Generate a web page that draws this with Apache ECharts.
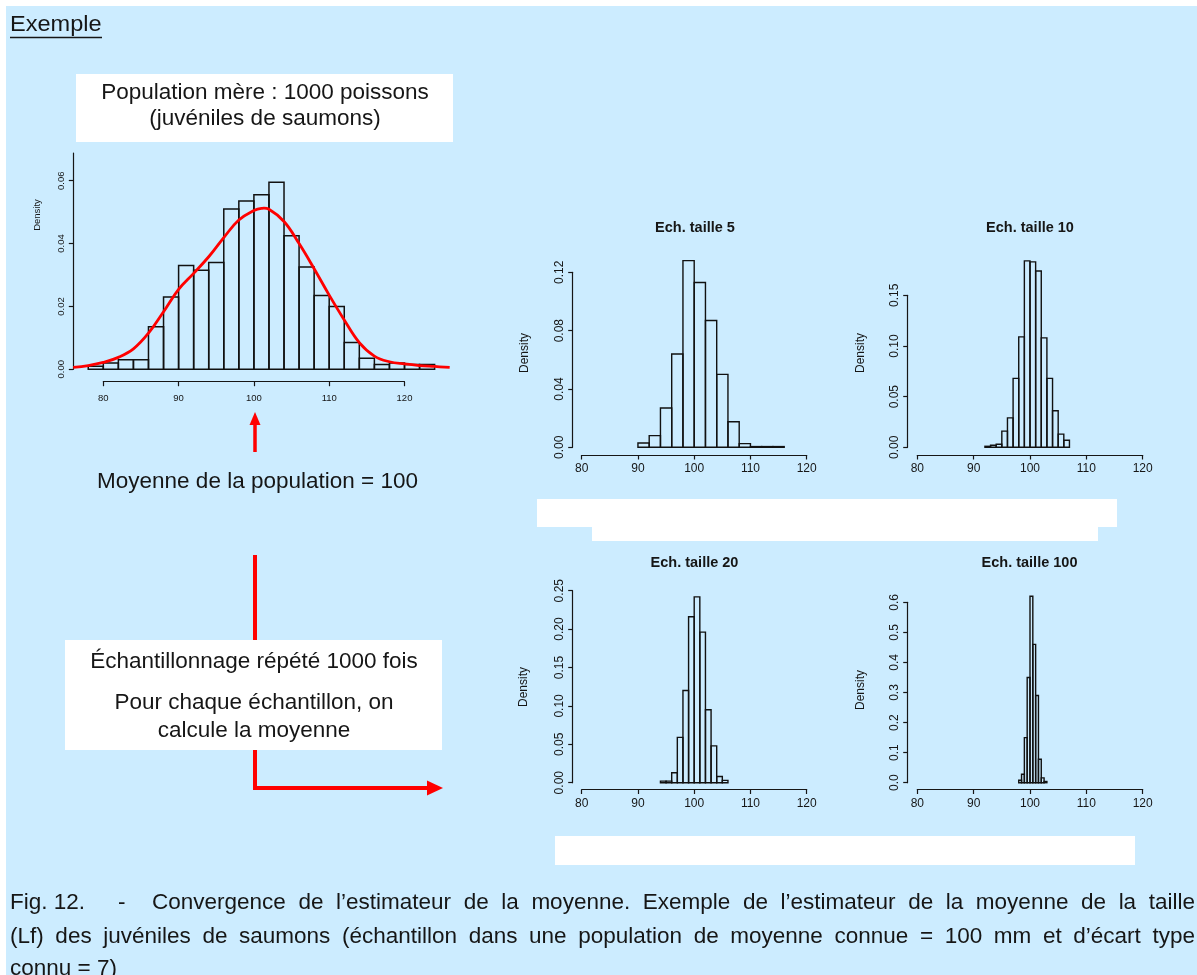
<!DOCTYPE html>
<html>
<head>
<meta charset="utf-8">
<script src="https://cdn.jsdelivr.net/npm/echarts@6/dist/echarts.min.js"></script>
<style>
  html, body { margin: 0; padding: 0; background: #fff; }
  #chart { width: 1197px; height: 975px; }
</style>
</head>
<body>
<div id="chart"></div>
<script>
// population mère (histogramme en densité + courbe de densité)
const popBreaks = [78, 80, 82, 84, 86, 88, 90, 92, 94, 96, 98, 100, 102, 104, 106, 108, 110, 112, 114, 116, 118, 120, 122, 124];
const popDensity = [0.001, 0.002, 0.003, 0.003, 0.0135, 0.023, 0.033, 0.0315, 0.034, 0.051, 0.0535, 0.0555, 0.0595, 0.0425, 0.0325, 0.0235, 0.020, 0.0085, 0.0035, 0.0015, 0.002, 0.0015, 0.0015];
const popCurveX = [76, 78, 80, 82, 84, 86, 88, 90, 92, 94, 96, 98, 100, 101, 102, 104, 106, 108, 110, 112, 114, 116, 118, 120, 122, 124, 126];
const popCurveY = [0.0006, 0.0012, 0.0022, 0.0038, 0.0065, 0.0115, 0.0183, 0.0254, 0.0305, 0.0358, 0.0419, 0.0475, 0.0505, 0.0512, 0.0509, 0.047, 0.040, 0.032, 0.0236, 0.0157, 0.0085, 0.0042, 0.0024, 0.0017, 0.0012, 0.0009, 0.0006];

// moyennes des 1000 échantillons
const ech5Breaks = [90, 92, 94, 96, 98, 100, 102, 104, 106, 108, 110, 112, 114, 116];
const ech5Density = [0.003, 0.008, 0.027, 0.064, 0.128, 0.113, 0.087, 0.050, 0.0175, 0.0025, 0.0005, 0.0005, 0.0005];
const ech10Breaks = [92, 93, 94, 95, 96, 97, 98, 99, 100, 101, 102, 103, 104, 105, 106, 107];
const ech10Density = [0.001, 0.002, 0.003, 0.016, 0.029, 0.068, 0.109, 0.184, 0.183, 0.174, 0.108, 0.068, 0.036, 0.013, 0.007];
const ech20Breaks = [94, 95, 96, 97, 98, 99, 100, 101, 102, 103, 104, 105, 106];
const ech20Density = [0.002, 0.002, 0.013, 0.059, 0.120, 0.216, 0.242, 0.196, 0.095, 0.048, 0.008, 0.003];
const ech100Breaks = [98, 98.5, 99, 99.5, 100, 100.5, 101, 101.5, 102, 102.5, 103];
const ech100Density = [0.008, 0.028, 0.150, 0.350, 0.620, 0.460, 0.290, 0.078, 0.016, 0.004];

const popYTicks = [0, 0.02, 0.04, 0.06];

const FONT = '"Liberation Sans", Arial, Helvetica, sans-serif';
const INK = '#161616';
const RED = '#ff0000';

const panels = [
  { breaks: popBreaks, dens: popDensity, left: 103.3, top: 153, width: 301.2, height: 216.3,
    yMax: 0.0688, yTicks: popYTicks, dec: 2, yOff: 30, xOff: 12.4, fs: 9.5, mx: 12, my: 7, lw: 1.5 },
  { breaks: ech5Breaks, dens: ech5Density, left: 581.7, top: 272.3, width: 225, height: 175,
    yMax: 0.12, yStep: 0.04, dec: 2, yOff: 9, xOff: 7.7, fs: 12, mx: 8, my: 7, lw: 1.4 },
  { breaks: ech10Breaks, dens: ech10Density, left: 917.3, top: 295.3, width: 225.4, height: 152,
    yMax: 0.15, yStep: 0.05, dec: 2, yOff: 9.6, xOff: 7.7, fs: 12, mx: 8, my: 7, lw: 1.4 },
  { breaks: ech20Breaks, dens: ech20Density, left: 581.7, top: 590.7, width: 225, height: 192,
    yMax: 0.25, yStep: 0.05, dec: 2, yOff: 9, xOff: 6.8, fs: 12, mx: 8, my: 7, lw: 1.4 },
  { breaks: ech100Breaks, dens: ech100Density, left: 917.3, top: 602.3, width: 225.4, height: 180.4,
    yMax: 0.6, yStep: 0.1, dec: 1, yOff: 9.6, xOff: 6.8, fs: 12, mx: 8, my: 7, lw: 1.4 }
];

const axisLineStyle = { color: INK, width: 1.2 };

const grid = panels.map(p => ({
  left: p.left, top: p.top, width: p.width, height: p.height, outerBoundsMode: 'none', containLabel: false
}));

const xAxis = panels.map((p, i) => ({
  gridIndex: i, type: 'value', min: 80, max: 120, interval: 10, position: 'bottom', offset: p.xOff,
  axisLine: { show: true, onZero: false, lineStyle: axisLineStyle },
  axisTick: { show: true, length: 4.5, lineStyle: axisLineStyle },
  axisLabel: { show: true, margin: p.mx, fontSize: p.fs, fontFamily: FONT, color: INK },
  splitLine: { show: false }
}));

const yAxis = panels.map((p, i) => {
  const ax = {
    gridIndex: i, type: 'value', min: 0, max: p.yMax, position: 'left', offset: p.yOff,
    axisLine: { show: true, onZero: false, lineStyle: axisLineStyle },
    axisTick: { show: true, length: 4.5, lineStyle: axisLineStyle },
    axisLabel: { show: true, rotate: 90, margin: p.my, fontSize: p.fs, fontFamily: FONT, color: INK,
      formatter: v => v.toFixed(p.dec) },
    splitLine: { show: false }
  };
  if (p.yTicks) {
    ax.axisTick.customValues = p.yTicks;
    ax.axisLabel.customValues = p.yTicks;
  } else {
    ax.interval = p.yStep;
  }
  return ax;
});

function histItem(lw) {
  return function (params, api) {
    const a = api.coord([api.value(0), api.value(2)]);
    const b = api.coord([api.value(1), 0]);
    return {
      type: 'rect',
      shape: { x: a[0], y: a[1], width: b[0] - a[0], height: b[1] - a[1] },
      style: { fill: 'none', stroke: '#111', lineWidth: lw }
    };
  };
}

const series = panels.map((p, i) => ({
  type: 'custom', xAxisIndex: i, yAxisIndex: i, clip: false, silent: true,
  renderItem: histItem(p.lw),
  data: p.dens.map((d, k) => [p.breaks[k], p.breaks[k + 1], d])
}));

// courbe de densité : une seule polyligne, placée par les axes du premier graphique
series.push({
  type: 'custom', xAxisIndex: 0, yAxisIndex: 0, clip: false, silent: true, z: 3,
  data: popCurveX.map((x, k) => [x, popCurveY[k]]),
  renderItem: function (params, api) {
    if (params.dataIndex !== 0) return null;
    const pts = popCurveX.map((x, k) => api.coord([x, popCurveY[k]]));
    return {
      type: 'polyline',
      shape: { points: pts, smooth: 0.4 },
      style: { fill: null, stroke: RED, lineWidth: 2.8 }
    };
  }
});

// ---- annotations ----
const big = '22.5px ' + FONT;

function txt(text, x, y, font, extra) {
  return Object.assign({
    type: 'text', x: x, y: y, z: 20, silent: true,
    style: { text: text, font: font, fill: INK, align: 'center', verticalAlign: 'middle' }
  }, extra || {});
}
function box(x, y, w, h) {
  return { type: 'rect', z: 5, silent: true, shape: { x: x, y: y, width: w, height: h }, style: { fill: '#fff' } };
}

// légende justifiée comme dans l'original
const measureCtx = document.createElement('canvas').getContext('2d');
function justify(words, x0, x1, y, font) {
  measureCtx.font = font;
  const widths = words.map(w => measureCtx.measureText(w).width);
  const total = widths.reduce((s, w) => s + w, 0);
  const gap = (x1 - x0 - total) / (words.length - 1);
  let x = x0;
  return words.map((w, k) => {
    const el = { type: 'text', x: x, y: y, z: 20, silent: true,
      style: { text: w, font: font, fill: INK, align: 'left', verticalAlign: 'middle' } };
    x += widths[k] + gap;
    return el;
  });
}
const capFont = '22.5px ' + FONT;
const capLine1 = 'Convergence de l’estimateur de la moyenne. Exemple de l’estimateur de la moyenne de la taille';
const capLine2 = '(Lf) des juvéniles de saumons (échantillon dans une population de moyenne connue = 100 mm et d’écart type';

const graphics = [
  { type: 'rect', z: -10, silent: true, shape: { x: 6, y: 6, width: 1191, height: 969 }, style: { fill: '#cceCff' } },

  { type: 'text', x: 10, y: 25, z: 20, silent: true, scaleX: 1.07,
    style: { text: 'Exemple', font: '22px ' + FONT, fill: INK, align: 'left', verticalAlign: 'middle' } },
  { type: 'line', z: 20, silent: true, shape: { x1: 10, y1: 37.5, x2: 102, y2: 37.5 }, style: { stroke: INK, lineWidth: 1.4 } },

  box(76, 74, 377, 68),
  txt('Population mère : 1000 poissons', 265, 93, big),
  txt('(juvéniles de saumons)', 265, 119, big),

  // flèche vers le haut
  { type: 'line', z: 4, silent: true, shape: { x1: 255, y1: 452, x2: 255, y2: 421 }, style: { stroke: RED, lineWidth: 3.5 } },
  { type: 'polygon', z: 4, silent: true, shape: { points: [[255, 412], [249.5, 425], [260.5, 425]] }, style: { fill: RED } },
  txt('Moyenne de la population = 100', 257.5, 482, big),

  // flèche coudée
  { type: 'polyline', z: 4, silent: true, shape: { points: [[255, 555], [255, 788], [430, 788]] },
    style: { stroke: RED, lineWidth: 4, fill: null, lineJoin: 'miter' } },
  { type: 'polygon', z: 4, silent: true, shape: { points: [[443, 788], [427, 780.5], [427, 795.5]] }, style: { fill: RED } },

  box(65, 640, 377, 110),
  txt('Échantillonnage répété 1000 fois', 254, 662, big),
  txt('Pour chaque échantillon, on', 254, 702.5, big),
  txt('calcule la moyenne', 254, 731, big),

  // bandeaux blancs
  box(537, 499, 580, 28),
  box(592, 527, 506, 14),
  box(555, 836, 580, 29),

  // titres et libellés Density des histogrammes
  txt('Density', 37, 215, '9.5px ' + FONT, { rotation: Math.PI / 2 }),
  txt('Density', 525, 353, '12px ' + FONT, { rotation: Math.PI / 2 }),
  txt('Density', 861, 353, '12px ' + FONT, { rotation: Math.PI / 2 }),
  txt('Density', 524, 687, '12px ' + FONT, { rotation: Math.PI / 2 }),
  txt('Density', 861, 690, '12px ' + FONT, { rotation: Math.PI / 2 }),
  txt('Ech. taille 5', 695, 227.5, 'bold 14.5px ' + FONT),
  txt('Ech. taille 10', 1030, 227.5, 'bold 14.5px ' + FONT),
  txt('Ech. taille 20', 694.5, 563, 'bold 14.5px ' + FONT),
  txt('Ech. taille 100', 1029.5, 563, 'bold 14.5px ' + FONT),

  // légende de la figure
  { type: 'text', x: 10, y: 903, z: 20, silent: true, style: { text: 'Fig. 12.', font: capFont, fill: INK, align: 'left', verticalAlign: 'middle' } },
  { type: 'text', x: 118, y: 903, z: 20, silent: true, style: { text: '-', font: capFont, fill: INK, align: 'left', verticalAlign: 'middle' } }
]
  .concat(justify(capLine1.split(' '), 152, 1195, 903, capFont))
  .concat(justify(capLine2.split(' '), 10, 1195, 937, capFont))
  .concat([{ type: 'text', x: 10, y: 969, z: 20, silent: true, style: { text: 'connu = 7)', font: capFont, fill: INK, align: 'left', verticalAlign: 'middle' } }]);

const chart = echarts.init(document.getElementById('chart'), null, { renderer: 'canvas' });
chart.setOption({
  animation: false,
  backgroundColor: '#ffffff',
  grid: grid,
  xAxis: xAxis,
  yAxis: yAxis,
  series: series,
  graphic: { elements: graphics }
});
</script>
</body>
</html>
